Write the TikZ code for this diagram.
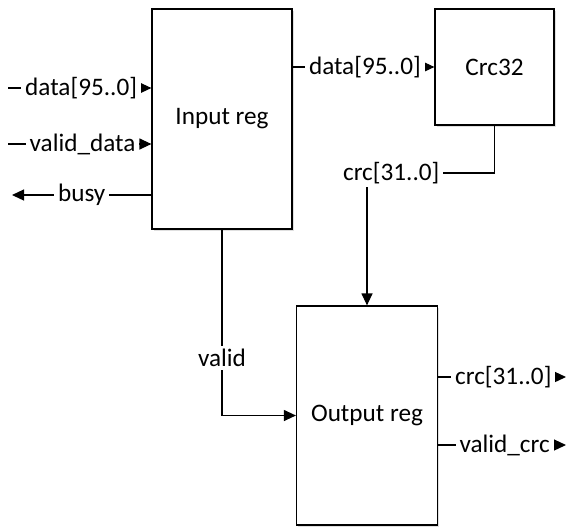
\documentclass[tikz,border=0pt]{standalone}
\usepackage{fontspec}
\setmainfont{Carlito}
\usetikzlibrary{arrows.meta,shadows}

\begin{document}
\begin{tikzpicture}[x=0.5pt,y=-0.5pt,line width=0.6pt,
  every node/.style={font=\fontsize{12.6}{15}\selectfont},
  block/.style={draw,fill=white,drop shadow={shadow xshift=0.8pt,shadow yshift=-0.8pt,fill=black!25}},
  sig/.style={fill=white,inner xsep=2pt,inner ysep=1.5pt},
  >={Triangle[length=6pt,width=5.5pt]}]
 \useasboundingbox (0,0) rectangle (567,526);

 \node[block,minimum width=70pt,minimum height=110pt] (inreg) at (222,119) {Input reg};
 \node[block,minimum width=59.5pt,minimum height=58pt] (crc) at (494.5,67) {Crc32};
 \node[block,minimum width=70.5pt,minimum height=109.5pt] (outreg) at (367,415.5) {Output reg};

 \coordinate (din) at (8,88);
 \coordinate (vdin) at (8,144);
 \coordinate (busyout) at (12,195);
 \coordinate (crcbend) at (367,173);
 \coordinate (crcout) at (566,377);
 \coordinate (vcout) at (566,445);

 \draw [->] (din) -- node[sig,pos=0.51] {data[95..0]} (inreg.west |- din);
 \draw [->] (vdin) -- node[sig,pos=0.52] {valid\_data} (inreg.west |- vdin);
 \draw [->] (inreg.west |- busyout) -- node[sig] {busy} (busyout);

 \draw [->] (inreg.east |- crc.west) -- node[sig,pos=0.51] {data[95..0]} (crc.west);
 \draw [->] (crc.south) |- node[sig,pos=0.905] {crc[31..0]} (crcbend) -- (outreg.north);
 \draw [->] (inreg.south) |- node[sig,pos=0.345] {valid} (outreg.west);

 \draw [->] (outreg.east |- crcout) -- node[sig,pos=0.51] {crc[31..0]} (crcout);
 \draw [->] (outreg.east |- vcout) -- node[sig,pos=0.52] {valid\_crc} (vcout);
\end{tikzpicture}
\end{document}
